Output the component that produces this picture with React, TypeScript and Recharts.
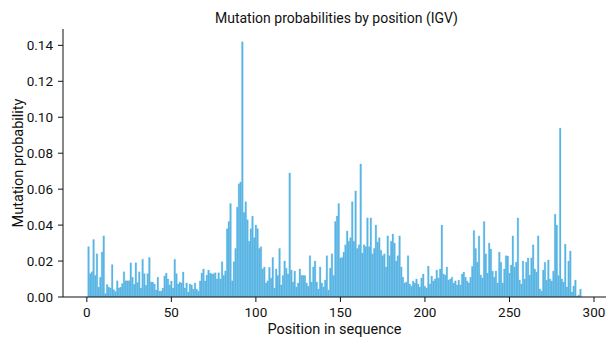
import { BarChart, Bar, XAxis, YAxis } from "recharts"

// mutation probability per sequence position (positions start at 1)
const FIRST_POSITION = 1
const probabilities = [
  // 1-36
  0.028, 0.013, 0.014, 0.032, 0.012, 0.024, 0.0055, 0.011, 0.025, 0.034, 0.002, 0.007,
  0.0055, 0.005, 0.018, 0.004, 0.003, 0.009, 0.005, 0.0055, 0.0075, 0.014, 0.009, 0.009,
  0.009, 0.019, 0.011, 0.007, 0.019, 0.008, 0.014, 0.005, 0.021, 0.013, 0.0065, 0.013,
  // 37-75
  0.022, 0.0083, 0.0083, 0.0072, 0.0039, 0.011, 0.0033, 0.0033, 0.005, 0.0117, 0.0133, 0.01,
  0.0067, 0.0089, 0.005, 0.021, 0.013, 0.0072, 0.0083, 0.0078, 0.0139, 0.005, 0.0078, 0.0028,
  0.0072, 0.0067, 0.0044, 0.0078, 0.0044, 0.0033, 0.0089, 0.0133, 0.0156, 0.0089, 0.0122, 0.015,
  0.0133, 0.0128, 0.013,
  // 76-113
  0.0135, 0.01, 0.0135, 0.01, 0.0196, 0.012, 0.0145, 0.038, 0.042, 0.052, 0.009, 0.0196,
  0.027, 0.05, 0.063, 0.064, 0.142, 0.047, 0.053, 0.043, 0.031, 0.038, 0.045, 0.033,
  0.04, 0.038, 0.027, 0.028, 0.0156, 0.0167, 0.0078, 0.009, 0.0165, 0.0105, 0.022, 0.005,
  0.0156, 0.012,
  // 114-152
  0.027, 0.0067, 0.012, 0.02, 0.016, 0.0128, 0.069, 0.015, 0.0083, 0.0144, 0.0056, 0.0078,
  0.0156, 0.012, 0.012, 0.012, 0.0078, 0.006, 0.023, 0.0083, 0.0167, 0.02, 0.0083, 0.0044,
  0.0167, 0.0078, 0.0056, 0.0094, 0.023, 0.0039, 0.016, 0.024, 0.012, 0.042, 0.045, 0.052,
  0.0217, 0.022, 0.025,
  // 153-190
  0.029, 0.0367, 0.031, 0.033, 0.053, 0.031, 0.059, 0.027, 0.029, 0.074, 0.0244, 0.029,
  0.028, 0.044, 0.028, 0.044, 0.024, 0.027, 0.04, 0.0306, 0.033, 0.026, 0.023, 0.024,
  0.0167, 0.034, 0.023, 0.031, 0.035, 0.03, 0.02, 0.023, 0.034, 0.0167, 0.011, 0.0078,
  0.0083, 0.023,
  // 191-229
  0.0072, 0.006, 0.0089, 0.0078, 0.01, 0.0072, 0.0056, 0.0106, 0.0128, 0.006, 0.005, 0.0172,
  0.0072, 0.0117, 0.0089, 0.01, 0.015, 0.0106, 0.0156, 0.04, 0.0128, 0.0122, 0.0167, 0.0094,
  0.01, 0.011, 0.0078, 0.009, 0.0067, 0.0094, 0.0067, 0.0128, 0.0139, 0.011, 0.0089, 0.0078,
  0.011, 0.017, 0.037,
  // 230-267
  0.027, 0.0194, 0.034, 0.0122, 0.0106, 0.042, 0.024, 0.0133, 0.03, 0.0267, 0.0144, 0.011,
  0.0144, 0.0078, 0.025, 0.0194, 0.0078, 0.0156, 0.023, 0.0228, 0.0133, 0.0178, 0.034, 0.0167,
  0.0194, 0.044, 0.0094, 0.0072, 0.02, 0.01, 0.0194, 0.0217, 0.0122, 0.0217, 0.029, 0.0156,
  0.0139, 0.034,
  // 268-292
  0.0044, 0.0033, 0.015, 0.0194, 0.0094, 0.0206, 0.01, 0.0089, 0.0144, 0.046, 0.04, 0.012,
  0.094, 0.01, 0.0083, 0.0294, 0.0056, 0.02, 0.0256, 0.0028, 0.0061, 0.0094, 0.0006, 0.0011,
  0.0044,
]

const xTicks = [0, 50, 100, 150, 200, 250, 300]
const yTicks = [0, 0.02, 0.04, 0.06, 0.08, 0.1, 0.12, 0.14]

const chartData = probabilities.map((p, i) => ({
  position: FIRST_POSITION + i,
  probability: p,
}))

const FONT = "Roboto, 'Noto Sans', sans-serif"
const INK = "#111"
const BAR = "#5ab5e4"

export default function App() {
  return (
    <div style={{ position: "absolute", left: 0, top: 0, width: 609, height: 340, fontFamily: FONT }}>
      <div
        style={{
          position: "absolute",
          left: 65,
          top: 9,
          width: 543,
          lineHeight: "18px",
          fontSize: 14,
          color: INK,
          textAlign: "center",
        }}
      >
        Mutation probabilities by position (IGV)
      </div>
      <BarChart
        width={609}
        height={340}
        data={chartData}
        margin={{ top: 29, right: 3, left: 0, bottom: 0 }}
        barCategoryGap={0}
        barGap={0}
      >
        <XAxis
          dataKey="position"
          type="number"
          domain={[-14.1, 307.1]}
          allowDataOverflow
          ticks={xTicks}
          height={43}
          tickSize={5}
          tickMargin={5}
          stroke={INK}
          tick={{ fill: INK, fontSize: 13.5, fontFamily: FONT }}
          label={{
            value: "Position in sequence",
            position: "insideBottom",
            offset: 6,
            style: { fill: INK, fontSize: 14.5, fontFamily: FONT },
          }}
        />
        <YAxis
          type="number"
          domain={[0, 0.1491]}
          allowDataOverflow
          ticks={yTicks}
          width={63}
          tickSize={5}
          tickMargin={5}
          stroke={INK}
          tickFormatter={(v: number) => v.toFixed(2)}
          tick={{ fill: INK, fontSize: 13.5, fontFamily: FONT }}
          label={{
            value: "Mutation probability",
            angle: -90,
            position: "insideLeft",
            offset: 18,
            style: { fill: INK, fontSize: 14.5, fontFamily: FONT, textAnchor: "middle" },
          }}
        />
        <Bar
          dataKey="probability"
          fill={BAR}
          stroke={BAR}
          strokeWidth={0.25}
          barSize={1.68}
          isAnimationActive={false}
        />
      </BarChart>
    </div>
  )
}
